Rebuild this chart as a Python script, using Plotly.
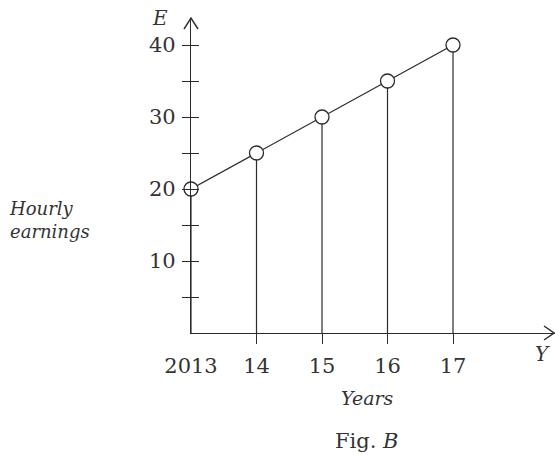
import plotly.graph_objects as go

years = [2013, 2014, 2015, 2016, 2017]
earnings = [20, 25, 30, 35, 40]
year_labels = ["2013", "14", "15", "16", "17"]
y_major = [10, 20, 30, 40]
y_minor = [5, 15, 25, 35]

INK = "#2b2b2b"
FONT = "DejaVu Serif"

W, H = 555, 462
L, R, T, B = 191, 0, 18, 129
PW, PH = W - L - R, H - T - B
XMIN, XPX = 2013, 65.5
YPX = 7.2
XMAX = XMIN + PW / XPX
YMAX = PH / YPX


def px(x):
    return (x - L) / PW


def py(y):
    return (H - B - y) / PH


fig = go.Figure()

# drop lines from each point to the axis
fig.add_trace(go.Scatter(
    x=years, y=earnings, mode="markers",
    marker=dict(size=0.1, color="rgba(0,0,0,0)"),
    error_y=dict(type="data", symmetric=False, array=[0] * len(earnings),
                 arrayminus=earnings, color=INK, thickness=1.2, width=0),
    hoverinfo="skip", showlegend=False,
))
# line with open circles
fig.add_trace(go.Scatter(
    x=years, y=earnings, mode="lines+markers",
    line=dict(color=INK, width=1.3),
    marker=dict(symbol="circle", size=14, color="white",
                line=dict(color=INK, width=1.3)),
    showlegend=False, cliponaxis=False,
))
# invisible traces for overlay axes
fig.add_trace(go.Scatter(x=[XMIN], y=[0], xaxis="x2", yaxis="y", mode="markers",
                         marker=dict(opacity=0), showlegend=False, hoverinfo="skip"))
fig.add_trace(go.Scatter(x=[XMIN], y=[0], xaxis="x", yaxis="y2", mode="markers",
                         marker=dict(opacity=0), showlegend=False, hoverinfo="skip"))

axis_font = dict(family=FONT, size=21, color="#333")

fig.update_layout(
    width=W, height=H,
    margin=dict(l=L, r=R, t=T, b=B, pad=0, autoexpand=False),
    paper_bgcolor="white", plot_bgcolor="white",
    xaxis=dict(range=[XMIN, XMAX], showgrid=False, zeroline=False,
               showline=True, linecolor=INK, linewidth=1.3,
               tickvals=years, ticktext=year_labels, ticks="outside",
               ticklen=0, ticklabelstandoff=14, tickfont=axis_font,
               automargin=False, fixedrange=True),
    xaxis2=dict(range=[XMIN, XMAX], overlaying="x", anchor="y", side="bottom",
                showgrid=False, zeroline=False, showline=False,
                tickvals=years[1:], ticks="outside", ticklen=10,
                tickcolor=INK, tickwidth=1.2, showticklabels=False),
    yaxis=dict(range=[0, YMAX], showgrid=False, zeroline=False,
               showline=True, linecolor=INK, linewidth=1.3,
               tickvals=y_major, ticks="outside", ticklen=8,
               tickcolor=INK, tickwidth=1.2, tickfont=axis_font,
               ticklabelstandoff=2, automargin=False,
               minor=dict(tickvals=y_minor, ticks="outside", ticklen=8,
                          tickcolor=INK, tickwidth=1.2),
               fixedrange=True),
    yaxis2=dict(range=[0, YMAX], overlaying="y", anchor="x", side="left",
                showgrid=False, zeroline=False, showline=False,
                tickvals=y_major, ticks="inside", ticklen=8,
                tickcolor=INK, tickwidth=1.2, showticklabels=False,
                minor=dict(tickvals=y_minor, ticks="inside", ticklen=8,
                           tickcolor=INK, tickwidth=1.2)),
    showlegend=False,
)

# arrow heads (open chevrons) drawn in pixel offsets, paper-anchored
fig.add_shape(type="path", xref="paper", yref="paper", xsizemode="pixel", ysizemode="pixel",
              xanchor=0, yanchor=1, path="M -7,-11 L 0,0 L 7,-11",
              line=dict(color=INK, width=1.4))
fig.add_shape(type="path", xref="paper", yref="paper", xsizemode="pixel", ysizemode="pixel",
              xanchor=1, yanchor=0, path="M -11,7 L -1,0 L -11,-7",
              line=dict(color=INK, width=1.4))

ann = dict(xref="paper", yref="paper", showarrow=False, yanchor="middle")
fig.add_annotation(text="<i>E</i>", x=px(160), y=py(18), xanchor="center",
                   font=dict(family=FONT, size=20, color="#333"), **ann)
fig.add_annotation(text="<i>Y</i>", x=px(542), y=py(354), xanchor="center",
                   font=dict(family=FONT, size=20, color="#333"), **ann)
fig.add_annotation(text="<i>Hourly<br>earnings</i>", x=px(7), y=py(220),
                   xanchor="left", align="left",
                   font=dict(family=FONT, size=18, color="#333"), **ann)
fig.add_annotation(text="<i>Years</i>", x=px(367), y=py(398), xanchor="center",
                   font=dict(family=FONT, size=19, color="#333"), **ann)
fig.add_annotation(text="Fig. <i>B</i>", x=px(367), y=py(441), xanchor="center",
                   font=dict(family=FONT, size=21, color="#333"), **ann)

fig.write_html("out.html", config={"displayModeBar": False},
               post_script="document.body.style.margin='0';")
